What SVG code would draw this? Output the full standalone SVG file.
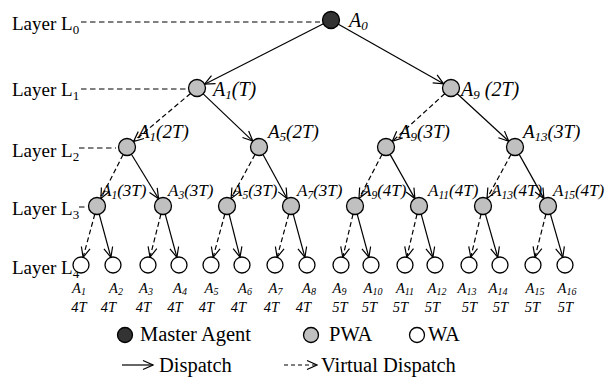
<svg xmlns="http://www.w3.org/2000/svg" width="608" height="380" viewBox="0 0 608 380">
<defs>
<style>
text{font-family:"Liberation Serif","Times New Roman",serif;fill:#000}
.lay{font-size:19px}
.ls{font-size:13px}
.lbl{font-size:20px;font-style:italic}
.lbl2{font-size:19px;font-style:italic}
.lbl3{font-size:17px;font-style:italic}
.sub{font-size:13px}
.sub3{font-size:11.5px}
.leaf{font-size:14.5px;font-style:italic;text-anchor:middle}
.leafsub{font-size:10px}
.leg{font-size:20.5px}
.n circle{stroke:#000;stroke-width:1.3}
.m{fill:#333}
.p{fill:#c0c0c0}
.w{fill:#fff}
.e{stroke:#000;stroke-width:1.2;fill:none;marker-end:url(#ah)}
.d{stroke-dasharray:5 3}
.guide{stroke:#000;stroke-width:1;stroke-dasharray:5.5 3.5;fill:none}
</style>
<marker id="ah" viewBox="-11 -6 12 12" refX="0" refY="0" markerWidth="12" markerHeight="12" markerUnits="userSpaceOnUse" orient="auto">
<path d="M-10,-4.5 L0,0 L-10,4.5" fill="none" stroke="#000" stroke-width="1.2" stroke-dasharray="none"/>
</marker>
</defs>
<rect width="608" height="380" fill="#fff"/>

<g id="layers">
<text class="lay" x="12" y="30">Layer L<tspan class="ls" dy="4">0</tspan></text>
<line class="guide" x1="81" y1="22" x2="320" y2="22"/>
<text class="lay" x="12" y="96">Layer L<tspan class="ls" dy="4">1</tspan></text>
<line class="guide" x1="81" y1="89" x2="186" y2="89"/>
<text class="lay" x="12" y="157">Layer L<tspan class="ls" dy="4">2</tspan></text>
<line class="guide" x1="79" y1="148" x2="116" y2="148"/>
<text class="lay" x="12" y="215">Layer L<tspan class="ls" dy="4">3</tspan></text>
<line class="guide" x1="79" y1="207" x2="88" y2="207"/>
<text class="lay" x="12" y="274">Layer L<tspan class="ls" dy="4">4</tspan></text>
</g>

<g id="connectors">
<line class="e" x1="323.4" y1="23.8" x2="204.6" y2="84.2"/>
<line class="e" x1="338.4" y1="24.2" x2="443.6" y2="83.8"/>
<line class="e d" x1="190.5" y1="93.5" x2="133.5" y2="141.5"/>
<line class="e" x1="203.2" y1="93.9" x2="252.8" y2="141.1"/>
<line class="e d" x1="444.7" y1="93.7" x2="392.3" y2="141.3"/>
<line class="e" x1="457.2" y1="93.8" x2="508.8" y2="141.2"/>
<line class="e d" x1="123.1" y1="154.6" x2="100.9" y2="198.4"/>
<line class="e" x1="131.4" y1="154.3" x2="158.6" y2="198.7"/>
<line class="e d" x1="255.0" y1="154.5" x2="231.1" y2="198.5"/>
<line class="e" x1="263.0" y1="154.5" x2="287.0" y2="198.5"/>
<line class="e d" x1="382.0" y1="154.5" x2="359.0" y2="198.5"/>
<line class="e" x1="390.1" y1="154.4" x2="414.9" y2="198.6"/>
<line class="e d" x1="511.0" y1="154.5" x2="487.0" y2="198.5"/>
<line class="e" x1="519.2" y1="154.4" x2="543.9" y2="198.6"/>
<line class="e d" x1="94.8" y1="214.2" x2="83.1" y2="257.3"/>
<line class="e" x1="99.2" y1="214.2" x2="110.9" y2="257.3"/>
<line class="e d" x1="160.9" y1="214.2" x2="150.0" y2="257.2"/>
<line class="e" x1="165.2" y1="214.2" x2="176.9" y2="257.3"/>
<line class="e d" x1="224.8" y1="214.2" x2="213.1" y2="257.3"/>
<line class="e" x1="229.1" y1="214.2" x2="240.0" y2="257.2"/>
<line class="e d" x1="288.8" y1="214.2" x2="277.1" y2="257.3"/>
<line class="e" x1="293.2" y1="214.2" x2="304.9" y2="257.3"/>
<line class="e d" x1="353.0" y1="214.3" x2="342.8" y2="257.2"/>
<line class="e" x1="357.2" y1="214.2" x2="368.9" y2="257.3"/>
<line class="e d" x1="417.0" y1="214.3" x2="406.8" y2="257.2"/>
<line class="e" x1="421.2" y1="214.2" x2="432.9" y2="257.3"/>
<line class="e d" x1="481.0" y1="214.3" x2="470.8" y2="257.2"/>
<line class="e" x1="485.4" y1="214.2" x2="497.8" y2="257.3"/>
<line class="e d" x1="545.9" y1="214.2" x2="535.0" y2="257.2"/>
<line class="e" x1="550.4" y1="214.2" x2="562.8" y2="257.3"/>
</g>

<g id="n-A0" class="n"><circle class="m" cx="331" cy="20" r="8.5"/><text class="lbl" x="349" y="27">A<tspan class="sub" dy="3">0</tspan></text></g>
<g id="n-L1-A1" class="n"><circle class="p" cx="197" cy="88" r="8.5"/><text class="lbl" x="213" y="96">A<tspan class="sub" dy="3">1</tspan><tspan dy="-3">(T)</tspan></text></g>
<g id="n-L1-A9" class="n"><circle class="p" cx="451" cy="88" r="8.5"/><text class="lbl" x="461" y="96">A<tspan class="sub" dy="3">9</tspan><tspan dy="-3"> (2T)</tspan></text></g>

<g id="n-L2-A1" class="n"><circle class="p" cx="127" cy="147" r="8.5"/><text class="lbl2" x="138" y="138">A<tspan class="sub" dy="3">1</tspan><tspan dy="-3">(2T)</tspan></text></g>
<g id="n-L2-A5" class="n"><circle class="p" cx="259" cy="147" r="8.5"/><text class="lbl2" x="268" y="138">A<tspan class="sub" dy="3">5</tspan><tspan dy="-3">(2T)</tspan></text></g>
<g id="n-L2-A9" class="n"><circle class="p" cx="386" cy="147" r="8.5"/><text class="lbl2" x="399" y="138">A<tspan class="sub" dy="3">9</tspan><tspan dy="-3">(3T)</tspan></text></g>
<g id="n-L2-A13" class="n"><circle class="p" cx="515" cy="147" r="8.5"/><text class="lbl2" x="523" y="138">A<tspan class="sub" dy="3">13</tspan><tspan dy="-3">(3T)</tspan></text></g>

<g id="n-L3-A1" class="n"><circle class="p" cx="97" cy="206" r="8.5"/><text class="lbl3" x="101" y="196">A<tspan class="sub3" dy="3">1</tspan><tspan dy="-3">(3T)</tspan></text></g>
<g id="n-L3-A3" class="n"><circle class="p" cx="163" cy="206" r="8.5"/><text class="lbl3" x="168" y="196">A<tspan class="sub3" dy="3">3</tspan><tspan dy="-3">(3T)</tspan></text></g>
<g id="n-L3-A5" class="n"><circle class="p" cx="227" cy="206" r="8.5"/><text class="lbl3" x="232" y="196">A<tspan class="sub3" dy="3">5</tspan><tspan dy="-3">(3T)</tspan></text></g>
<g id="n-L3-A7" class="n"><circle class="p" cx="291" cy="206" r="8.5"/><text class="lbl3" x="297" y="196">A<tspan class="sub3" dy="3">7</tspan><tspan dy="-3">(3T)</tspan></text></g>
<g id="n-L3-A9" class="n"><circle class="p" cx="355" cy="206" r="8.5"/><text class="lbl3" x="361" y="196">A<tspan class="sub3" dy="3">9</tspan><tspan dy="-3">(4T)</tspan></text></g>
<g id="n-L3-A11" class="n"><circle class="p" cx="419" cy="206" r="8.5"/><text class="lbl3" x="428" y="196">A<tspan class="sub3" dy="3">11</tspan><tspan dy="-3">(4T)</tspan></text></g>
<g id="n-L3-A13" class="n"><circle class="p" cx="483" cy="206" r="8.5"/><text class="lbl3" x="491" y="196">A<tspan class="sub3" dy="3">13</tspan><tspan dy="-3">(4T)</tspan></text></g>
<g id="n-L3-A15" class="n"><circle class="p" cx="548" cy="206" r="8.5"/><text class="lbl3" x="553" y="196">A<tspan class="sub3" dy="3">15</tspan><tspan dy="-3">(4T)</tspan></text></g>

<g id="n-L4-A1" class="n"><circle class="w" cx="81" cy="265" r="8"/><text class="leaf" x="79" y="293">A<tspan class="leafsub" dy="2">1</tspan></text><text class="leaf" x="79" y="312">4T</text></g>
<g id="n-L4-A2" class="n"><circle class="w" cx="113" cy="265" r="8"/><text class="leaf" x="116" y="293">A<tspan class="leafsub" dy="2">2</tspan></text><text class="leaf" x="108.5" y="312">4T</text></g>
<g id="n-L4-A3" class="n"><circle class="w" cx="148" cy="265" r="8"/><text class="leaf" x="146" y="293">A<tspan class="leafsub" dy="2">3</tspan></text><text class="leaf" x="143.5" y="312">4T</text></g>
<g id="n-L4-A4" class="n"><circle class="w" cx="179" cy="265" r="8"/><text class="leaf" x="180" y="293">A<tspan class="leafsub" dy="2">4</tspan></text><text class="leaf" x="175" y="312">4T</text></g>
<g id="n-L4-A5" class="n"><circle class="w" cx="211" cy="265" r="8"/><text class="leaf" x="211.5" y="293">A<tspan class="leafsub" dy="2">5</tspan></text><text class="leaf" x="206.5" y="312">4T</text></g>
<g id="n-L4-A6" class="n"><circle class="w" cx="242" cy="265" r="8"/><text class="leaf" x="245" y="293">A<tspan class="leafsub" dy="2">6</tspan></text><text class="leaf" x="238.5" y="312">4T</text></g>
<g id="n-L4-A7" class="n"><circle class="w" cx="275" cy="265" r="8"/><text class="leaf" x="275.5" y="293">A<tspan class="leafsub" dy="2">7</tspan></text><text class="leaf" x="271.5" y="312">4T</text></g>
<g id="n-L4-A8" class="n"><circle class="w" cx="307" cy="265" r="8"/><text class="leaf" x="309" y="293">A<tspan class="leafsub" dy="2">8</tspan></text><text class="leaf" x="303.5" y="312">4T</text></g>
<g id="n-L4-A9" class="n"><circle class="w" cx="341" cy="265" r="8"/><text class="leaf" x="339.5" y="293">A<tspan class="leafsub" dy="2">9</tspan></text><text class="leaf" x="340" y="312">5T</text></g>
<g id="n-L4-A10" class="n"><circle class="w" cx="371" cy="265" r="8"/><text class="leaf" x="373" y="293">A<tspan class="leafsub" dy="2">10</tspan></text><text class="leaf" x="369.5" y="312">5T</text></g>
<g id="n-L4-A11" class="n"><circle class="w" cx="405" cy="265" r="8"/><text class="leaf" x="405" y="293">A<tspan class="leafsub" dy="2">11</tspan></text><text class="leaf" x="400.5" y="312">5T</text></g>
<g id="n-L4-A12" class="n"><circle class="w" cx="435" cy="265" r="8"/><text class="leaf" x="437" y="293">A<tspan class="leafsub" dy="2">12</tspan></text><text class="leaf" x="432.5" y="312">5T</text></g>
<g id="n-L4-A13" class="n"><circle class="w" cx="469" cy="265" r="8"/><text class="leaf" x="467" y="293">A<tspan class="leafsub" dy="2">13</tspan></text><text class="leaf" x="469.5" y="312">5T</text></g>
<g id="n-L4-A14" class="n"><circle class="w" cx="500" cy="265" r="8"/><text class="leaf" x="498" y="293">A<tspan class="leafsub" dy="2">14</tspan></text><text class="leaf" x="500.5" y="312">5T</text></g>
<g id="n-L4-A15" class="n"><circle class="w" cx="533" cy="265" r="8"/><text class="leaf" x="535" y="293">A<tspan class="leafsub" dy="2">15</tspan></text><text class="leaf" x="532.5" y="312">5T</text></g>
<g id="n-L4-A16" class="n"><circle class="w" cx="565" cy="265" r="8"/><text class="leaf" x="567" y="293">A<tspan class="leafsub" dy="2">16</tspan></text><text class="leaf" x="565.5" y="312">5T</text></g>

<g id="legend" class="n">
<circle class="m" cx="125" cy="335" r="7.5"/>
<text class="leg" x="140" y="341">Master Agent</text>
<circle class="p" cx="311" cy="335" r="7.5"/>
<text class="leg" x="329" y="341">PWA</text>
<circle class="w" cx="417" cy="335" r="7.5"/>
<text class="leg" x="428" y="341">WA</text>
<line class="e" x1="122" y1="365" x2="153" y2="365"/>
<text class="leg" x="159" y="372">Dispatch</text>
<line class="e" x1="284" y1="365" x2="317" y2="365" style="stroke-dasharray:4 3"/>
<text class="leg" x="321" y="372">Virtual Dispatch</text>
</g>
</svg>
